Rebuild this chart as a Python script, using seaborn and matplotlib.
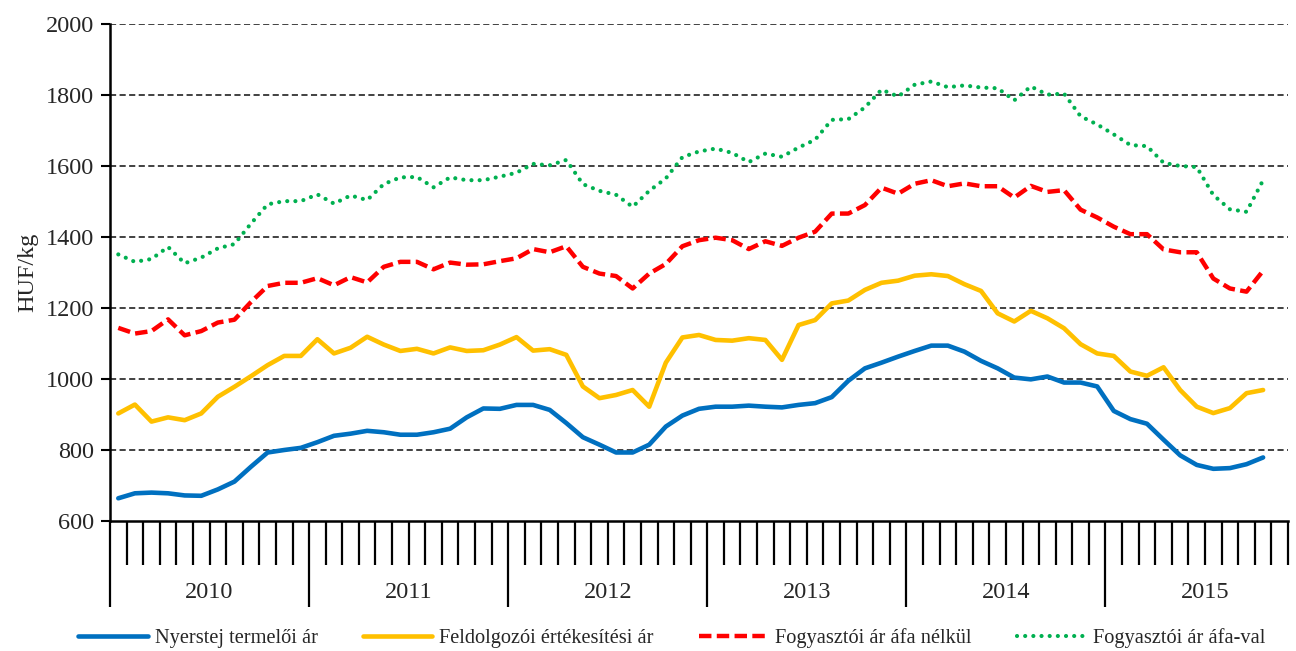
import matplotlib
matplotlib.use("Agg")
import matplotlib.pyplot as plt
import matplotlib.transforms as mtransforms
import pandas as pd
import seaborn as sns

YEARS = ["2010", "2011", "2012", "2013", "2014", "2015"]
N_SLOTS = 71  # Jan 2010 .. Nov 2015 on the axis, data until Oct 2015

LABELS = [
    "Nyerstej termelői ár",
    "Feldolgozói értékesítési ár",
    "Fogyasztói ár áfa nélkül",
    "Fogyasztói ár áfa-val",
]

RAW_MILK = [
    664, 678, 680, 678, 672, 671, 689, 711, 753, 793, 800, 806,
    822, 840, 846, 854, 850, 843, 843, 850, 860, 892, 917, 916,
    927, 927, 913, 876, 836, 815, 793, 793, 815, 866, 897, 916,
    922, 922, 925, 922, 920, 927, 932, 949, 995, 1030, 1046, 1063,
    1079, 1094, 1094, 1077, 1051, 1030, 1004, 999, 1007, 990, 990, 979,
    910, 887, 874, 829, 785, 758, 747, 749, 760, 779,
]
PROCESSOR = [
    903, 928, 880, 892, 884, 903, 950, 978, 1008, 1039, 1065, 1065,
    1112, 1072, 1088, 1119, 1097, 1079, 1085, 1072, 1089, 1079, 1081, 1097,
    1118, 1080, 1084, 1068, 979, 946, 955, 969, 922, 1046, 1117, 1124,
    1110, 1108, 1115, 1110, 1054, 1152, 1166, 1213, 1221, 1251, 1271, 1277,
    1291, 1295, 1290, 1267, 1248, 1185, 1162, 1192, 1171, 1143, 1098, 1072,
    1065, 1021, 1009, 1033, 969, 922, 904, 918, 960, 969,
]
RETAIL_NET = [
    1144, 1128, 1135, 1168, 1123, 1135, 1159, 1167, 1217, 1262, 1271, 1271,
    1284, 1264, 1287, 1272, 1316, 1330, 1330, 1309, 1328, 1322, 1323, 1332,
    1340, 1366, 1357, 1374, 1316, 1297, 1290, 1255, 1297, 1324, 1374, 1391,
    1398, 1391, 1366, 1388, 1375, 1398, 1415, 1466, 1466, 1490, 1539, 1522,
    1550, 1560, 1543, 1551, 1543, 1543, 1511, 1544, 1527, 1532, 1477, 1455,
    1429, 1408, 1408, 1365, 1357, 1357, 1283, 1255, 1246, 1305,
]
RETAIL_GROSS = [
    1351, 1330, 1338, 1372, 1326, 1342, 1368, 1380, 1438, 1492, 1501, 1501,
    1520, 1494, 1517, 1504, 1549, 1568, 1569, 1540, 1568, 1560, 1560, 1570,
    1581, 1606, 1602, 1617, 1549, 1530, 1519, 1485, 1530, 1565, 1625, 1641,
    1649, 1637, 1611, 1635, 1626, 1652, 1674, 1730, 1732, 1765, 1815, 1796,
    1829, 1838, 1822, 1827, 1821, 1819, 1785, 1824, 1801, 1804, 1740, 1717,
    1689, 1659, 1656, 1609, 1600, 1597, 1518, 1478, 1471, 1560,
]

Y_TICKS = [600, 800, 1000, 1200, 1400, 1600, 1800, 2000]

sns.set_style("white")
plt.rcParams["font.family"] = ["Liberation Serif", "DejaVu Serif"]

df = pd.DataFrame({
    "month": range(len(RAW_MILK)),
    "raw": RAW_MILK,
    "proc": PROCESSOR,
    "net": RETAIL_NET,
    "gross": RETAIL_GROSS,
})

fig, ax = plt.subplots(figsize=(12.96, 6.51), dpi=100)
fig.subplots_adjust(left=110 / 1296, right=1288 / 1296,
                    bottom=1 - 521 / 651, top=1 - 24 / 651)

ax.grid(False)
for y in Y_TICKS[1:]:
    ax.axhline(y, color="#333333", linewidth=1.3, linestyle=(0, (3.4, 1.9)), zorder=1)

sns.lineplot(data=df, x="month", y="raw", ax=ax, color="#0070C0",
             linewidth=3.3, label=LABELS[0], zorder=3)
sns.lineplot(data=df, x="month", y="proc", ax=ax, color="#FFC000",
             linewidth=3.3, label=LABELS[1], zorder=3)
sns.lineplot(data=df, x="month", y="net", ax=ax, color="#FF0000",
             linewidth=3.2, label=LABELS[2], linestyle=(0, (2.8, 1.2)), zorder=3)
sns.lineplot(data=df, x="month", y="gross", ax=ax, color="#00B050",
             linewidth=3.0, label=LABELS[3], linestyle=(0, (0.01, 1.95)),
             dash_capstyle="round", zorder=3)

ax.set_xlim(-0.5, N_SLOTS - 0.5)
ax.set_ylim(600, 2000)
ax.set_yticks(Y_TICKS)
ax.tick_params(axis="y", direction="out", length=6.5, width=1.5,
               labelsize=17.5, pad=5, color="black", left=True)
ax.set_ylabel("HUF/kg", fontsize=17.5, labelpad=5)
ax.set_xlabel("")

year_edges = [-0.5 + 12 * k for k in range(len(YEARS))]
month_edges = [-0.5 + k for k in range(N_SLOTS + 1) if (-0.5 + k) not in year_edges]
ax.set_xticks(year_edges)
ax.set_xticks(month_edges, minor=True)
ax.tick_params(axis="x", which="major", direction="out", length=62, width=1.6,
               labelbottom=False, bottom=True, color="black")
ax.tick_params(axis="x", which="minor", direction="out", length=31.5, width=1.6,
               bottom=True, color="black")

for side in ["top", "right"]:
    ax.spines[side].set_visible(False)
for side in ["left", "bottom"]:
    ax.spines[side].set_color("black")
    ax.spines[side].set_linewidth(1.8)
    ax.spines[side].set_zorder(4)

trans = mtransforms.blended_transform_factory(ax.transData, ax.transAxes)
for k, year in enumerate(YEARS):
    ax.text(5.5 + 12 * k, (521 - 593) / 497, year, transform=trans,
            ha="center", va="center", fontsize=17.5)

handles, labels = ax.get_legend_handles_labels()
ax.get_legend().remove()
fig.legend(handles, labels, loc="center", bbox_to_anchor=(672 / 1296, 1 - 638 / 651),
           ncol=4, frameon=False, fontsize=14.7, handlelength=3.4,
           handletextpad=0.35, columnspacing=2.2)

fig.savefig("out.png", dpi=100)
